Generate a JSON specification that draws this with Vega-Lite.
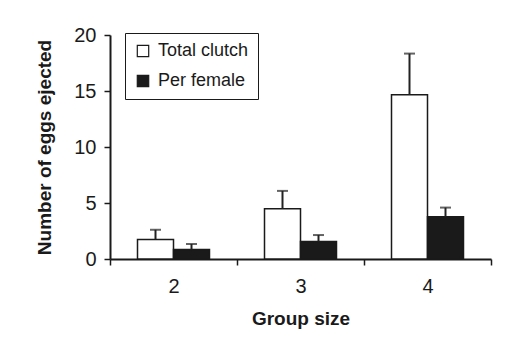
{
  "$schema": "https://vega.github.io/schema/vega-lite/v6.json",
  "autosize": {"type": "none"},
  "width": 381,
  "height": 224,
  "padding": {"left": 110, "top": 35, "right": 21, "bottom": 87},
  "background": "white",
  "data": {
    "values": [
      {"gsize": "2", "series": "Total clutch", "value": 1.75, "upper": 2.61},
      {"gsize": "2", "series": "Per female", "value": 0.85, "upper": 1.34},
      {"gsize": "3", "series": "Total clutch", "value": 4.48, "upper": 6.08},
      {"gsize": "3", "series": "Per female", "value": 1.57, "upper": 2.14},
      {"gsize": "4", "series": "Total clutch", "value": 14.66, "upper": 18.34},
      {"gsize": "4", "series": "Per female", "value": 3.77, "upper": 4.59}
    ]
  },
  "encoding": {
    "x": {
      "field": "gsize",
      "type": "nominal",
      "scale": {"paddingInner": 0, "paddingOuter": 0},
      "axis": {"title": "Group size", "labelAngle": 0, "tickBand": "extent", "titlePadding": 13, "labelPadding": 11}
    },
    "xOffset": {
      "field": "series",
      "type": "nominal",
      "scale": {"domain": ["Total clutch", "Per female"], "paddingInner": 0, "paddingOuter": 0.764}
    }
  },
  "layer": [
    {
      "mark": {"type": "bar", "stroke": "#1a1a1a", "strokeWidth": 1.5},
      "encoding": {
        "y": {
          "field": "value",
          "type": "quantitative",
          "scale": {"domain": [0, 20]},
          "axis": {"title": "Number of eggs ejected", "values": [0, 5, 10, 15, 20], "grid": false, "titlePadding": 19, "labelPadding": 8}
        },
        "fill": {
          "field": "series",
          "type": "nominal",
          "scale": {"domain": ["Total clutch", "Per female"], "range": ["#ffffff", "#1a1a1a"]},
          "legend": {
            "title": null,
            "orient": "none",
            "legendX": 15,
            "legendY": -2,
            "symbolType": "square",
            "symbolSize": 130,
            "symbolStrokeColor": "#1a1a1a",
            "symbolStrokeWidth": 1.2,
            "labelFontSize": 18,
            "labelColor": "#1a1a1a",
            "labelFont": "Liberation Sans",
            "padding": 9,
            "rowPadding": 12,
            "strokeColor": "#1a1a1a",
            "fillColor": "white",
            "labelOffset": 6
          }
        }
      }
    },
    {
      "mark": {"type": "rule", "stroke": "#222", "strokeWidth": 2},
      "encoding": {
        "y": {"field": "value", "type": "quantitative"},
        "y2": {"field": "upper"}
      }
    },
    {
      "mark": {"type": "tick", "color": "#222", "size": 11, "thickness": 2},
      "encoding": {
        "y": {"field": "upper", "type": "quantitative"}
      }
    }
  ],
  "config": {
    "view": {"stroke": null},
    "font": "Liberation Sans",
    "axis": {
      "labelFont": "Liberation Sans",
      "labelFontSize": 20,
      "labelColor": "#1a1a1a",
      "titleFont": "Liberation Sans",
      "titleFontSize": 19,
      "titleFontWeight": "bold",
      "titleColor": "#1a1a1a",
      "domainColor": "#1a1a1a",
      "domainWidth": 2,
      "tickColor": "#1a1a1a",
      "tickWidth": 1.5,
      "tickSize": 6
    }
  }
}
